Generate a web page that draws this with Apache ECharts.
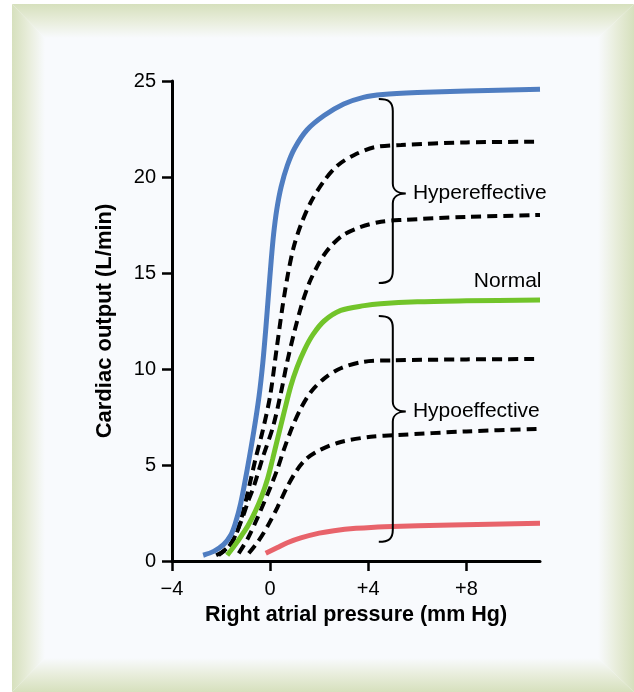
<!DOCTYPE html>
<html><head><meta charset="utf-8">
<script src="https://cdn.jsdelivr.net/npm/echarts@6/dist/echarts.min.js"></script>
<style>html,body{margin:0;padding:0;background:#fff}#c{width:634px;height:692px}</style>
</head><body><div id="c"></div><script>
// ---- data (x = right atrial pressure mm Hg, y = cardiac output L/min) ----
const blueCurve = [[-2.73,0.3],[-2.3,0.5],[-1.9,0.85],[-1.6,1.35],[-1.42,1.95],[-1.2,3.0],[-0.93,4.8],[-0.66,6.8],[-0.45,8.6],[-0.3,10.3],[-0.17,12.2],[-0.06,14.0],[0.04,15.6],[0.14,17.0],[0.27,18.3],[0.45,19.5],[0.7,20.6],[1.0,21.5],[1.5,22.45],[2.2,23.2],[3.0,23.8],[3.8,24.15],[4.6,24.3],[6,24.4],[8,24.48],[11,24.57]];
const hyper1 = [[-2.2,0.3],[-1.8,0.6],[-1.45,1.2],[-1.2,2.1],[-1.0,3.1],[-0.85,3.9],[-0.6,5.3],[-0.3,6.8],[0.0,8.6],[0.27,11.1],[0.5,13.2],[0.72,14.9],[0.95,16.3],[1.25,17.5],[1.66,18.7],[2.2,19.8],[2.75,20.6],[3.43,21.15],[4.25,21.55],[5.34,21.67],[8,21.8],[11,21.84]];
const hyper2 = [[-2.1,0.3],[-1.6,0.9],[-1.2,2.0],[-0.9,3.1],[-0.66,3.9],[-0.3,5.4],[0.12,7.0],[0.43,8.7],[0.7,10.4],[1.0,12.0],[1.3,13.4],[1.6,14.5],[1.9,15.3],[2.2,15.95],[2.55,16.5],[3.0,17.0],[3.7,17.4],[4.52,17.67],[5.34,17.76],[8,17.92],[11,18.02]];
const normal = [[-1.75,0.3],[-1.45,0.8],[-1.15,1.35],[-0.9,1.85],[-0.6,2.6],[-0.35,3.35],[-0.1,4.3],[0.1,5.3],[0.3,6.35],[0.56,7.7],[0.84,9.1],[1.1,10.1],[1.4,11.0],[1.75,11.8],[2.2,12.5],[2.88,13.05],[3.84,13.3],[4.5,13.4],[6,13.5],[8,13.55],[11,13.6]];
const hypo1 = [[-1.28,0.4],[-0.9,1.2],[-0.5,2.3],[0.02,3.87],[0.3,4.8],[0.56,5.8],[0.91,7.0],[1.25,7.95],[1.66,8.8],[2.2,9.5],[2.88,10.04],[3.84,10.38],[5,10.45],[8,10.5],[11,10.52]];
const hypo2 = [[-0.87,0.4],[-0.5,1.0],[-0.11,1.8],[0.3,2.8],[0.7,3.87],[1.1,4.75],[1.5,5.35],[2.06,5.8],[2.88,6.2],[4.1,6.47],[5.2,6.56],[8,6.75],[11,6.88]];
const redCurve = [[-0.18,0.4],[0.3,0.7],[0.7,0.95],[1.25,1.2],[2,1.45],[2.6,1.58],[3.5,1.7],[4.65,1.79],[7.4,1.88],[11,1.96]];

const xTickValues = [-4, 0, 4, 8];
const xTickLabels = ['\u22124', '0', '+4', '+8'];
// braces: [x, yTop, yCusp, yBottom]
const braces = [[5.0, 24.06, 19.14, 14.48], [5.0, 12.76, 7.78, 1.0]];
const annoText = ['Hypereffective', 'Normal', 'Hypoeffective'];
const annoPos = [[5.82, 19.14], [11.06, 14.55], [5.82, 7.78]];

const FONT = '"Liberation Sans", Arial, Helvetica, sans-serif';
const panel = '#f8fafd';
const green = '#d6e0bd';

function band(points, x1, y1, x2, y2) {
  return {
    type: 'polygon', z: -100, silent: true,
    shape: { points: points },
    style: { fill: new echarts.graphic.LinearGradient(x1, y1, x2, y2, [
      { offset: 0, color: green }, { offset: 0.5, color: '#e8eddb' }, { offset: 1, color: panel }]) }
  };
}

const lineBase = { showSymbol: false, smooth: 0.3 };
const dash = { color: '#000', width: 4, type: [10, 6] };

const chart = echarts.init(document.getElementById('c'));
chart.setOption({
  animation: false,
  backgroundColor: '#ffffff',
  graphic: [
    { type: 'rect', z: -101, silent: true, shape: { x: 12, y: 4, width: 622, height: 688 }, style: { fill: panel } },
    band([[12,4],[634,4],[598,38],[45,38]], 0, 0, 0, 1),
    band([[12,4],[45,38],[45,658],[12,692]], 0, 0, 1, 0),
    band([[634,4],[634,692],[598,658],[598,38]], 1, 0, 0, 0),
    band([[12,692],[45,658],[598,658],[634,692]], 0, 1, 0, 0)
  ],
  grid: { left: 172, right: 94, top: 81, bottom: 131 },
  xAxis: {
    type: 'value', min: -4, max: 11, interval: 4,
    name: 'Right atrial pressure (mm Hg)', nameLocation: 'middle', nameGap: 43,
    nameTextStyle: { fontFamily: FONT, fontSize: 21.5, fontWeight: 'bold', color: '#000' },
    axisLine: { onZero: false, lineStyle: { color: '#000', width: 3 } },
    axisTick: { show: true, length: 10, lineStyle: { color: '#000', width: 2.5 }, customValues: xTickValues },
    axisLabel: { margin: 18, fontFamily: FONT, fontSize: 20, color: '#000', customValues: xTickValues,
      formatter: v => xTickLabels[xTickValues.indexOf(v)] || '' },
    splitLine: { show: false }
  },
  yAxis: {
    type: 'value', min: 0, max: 25, interval: 5,
    name: 'Cardiac output (L/min)', nameLocation: 'middle', nameGap: 56,
    nameTextStyle: { fontFamily: FONT, fontSize: 22, fontWeight: 'bold', color: '#000' },
    axisLine: { show: true, onZero: false, lineStyle: { color: '#000', width: 3 } },
    axisTick: { show: true, length: 10, lineStyle: { color: '#000', width: 2.5 } },
    axisLabel: { margin: 16, fontFamily: FONT, fontSize: 20, color: '#000' },
    splitLine: { show: false }
  },
  series: [
    Object.assign({ type: 'line', data: hypo2, lineStyle: dash, z: 3 }, lineBase),
    Object.assign({ type: 'line', data: hypo1, lineStyle: dash, z: 3 }, lineBase),
    Object.assign({ type: 'line', data: hyper2, lineStyle: dash, z: 3 }, lineBase),
    Object.assign({ type: 'line', data: hyper1, lineStyle: dash, z: 3 }, lineBase),
    Object.assign({ type: 'line', data: redCurve, lineStyle: { color: '#e8636b', width: 5 }, z: 4 }, lineBase),
    Object.assign({ type: 'line', data: normal, lineStyle: { color: '#72c42a', width: 5 }, z: 4 }, lineBase),
    Object.assign({ type: 'line', data: blueCurve, lineStyle: { color: '#4f7dc1', width: 5 }, z: 4 }, lineBase),
    {
      type: 'custom', data: braces, z: 5, silent: true,
      renderItem: function (params, api) {
        const x = api.value(0);
        const T = api.coord([x, api.value(1)]);
        const C = api.coord([x, api.value(2)]);
        const B = api.coord([x, api.value(3)]);
        const X = T[0], t = T[1], c = C[1], b = B[1];
        const w = 14, p = 13;
        const d = 'M' + (X - w) + ' ' + t +
          ' C' + (X - 4) + ' ' + t + ' ' + X + ' ' + (t + 3) + ' ' + X + ' ' + (t + 12) +
          ' L' + X + ' ' + (c - 10) +
          ' C' + X + ' ' + (c - 3) + ' ' + (X + 6) + ' ' + c + ' ' + (X + p) + ' ' + c +
          ' C' + (X + 6) + ' ' + c + ' ' + X + ' ' + (c + 3) + ' ' + X + ' ' + (c + 10) +
          ' L' + X + ' ' + (b - 12) +
          ' C' + X + ' ' + (b - 3) + ' ' + (X - 4) + ' ' + b + ' ' + (X - w) + ' ' + b;
        return { type: 'path', shape: { pathData: d }, style: { fill: 'none', stroke: '#000', lineWidth: 2 } };
      }
    },
    {
      type: 'custom', data: annoPos.map((p, i) => [p[0], p[1], i]), z: 6, silent: true,
      renderItem: function (params, api) {
        const i = api.value(2);
        const pt = api.coord([api.value(0), api.value(1)]);
        return { type: 'text', style: { x: pt[0], y: pt[1], text: annoText[i], font: '21px ' + FONT, fill: '#000',
          textAlign: i === 1 ? 'right' : 'left', textVerticalAlign: 'middle' } };
      }
    }
  ]
});
</script></body></html>
